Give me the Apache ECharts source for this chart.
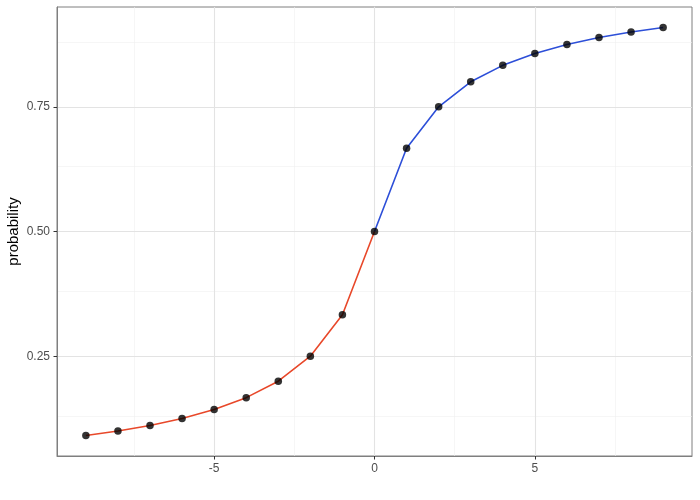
<!DOCTYPE html>
<html>
<head>
<meta charset="utf-8">
<script src="https://cdn.jsdelivr.net/npm/echarts@6/dist/echarts.min.js"></script>
<style>html,body{margin:0;padding:0;background:#fff}#c{width:700px;height:500px}</style>
</head>
<body>
<div id="c"></div>
<script>
const xNeg = [-9,-8,-7,-6,-5,-4,-3,-2,-1,0];
const yNeg = [0.091,0.1,0.111,0.125,0.143,0.167,0.2,0.25,0.333,0.5];
const xPos = [0,1,2,3,4,5,6,7,8,9];
const yPos = [0.5,0.667,0.75,0.8,0.833,0.857,0.875,0.889,0.9,0.909];
const xTicks = [-5,0,5];
const xMinor = [-7.5,-2.5,2.5,7.5];
const yTicks = [0.25,0.5,0.75];
const yMinor = [0.125,0.375,0.625,0.875];
const yTickLabels = ['0.25','0.50','0.75'];

const chart = echarts.init(document.getElementById('c'), null, {renderer:'canvas'});
const pair = (xs, ys) => xs.map((x,i)=>[x, ys[i]]);
const gridLines = [
  ...xMinor.map(v=>({xAxis:v, lineStyle:{color:'#f0f0f0',width:0.6,type:'solid'}})),
  ...yMinor.map(v=>({yAxis:v, lineStyle:{color:'#f0f0f0',width:0.6,type:'solid'}})),
  ...xTicks.map(v=>({xAxis:v, lineStyle:{color:'#e3e3e3',width:1.1,type:'solid'}})),
  ...yTicks.map(v=>({yAxis:v, lineStyle:{color:'#e3e3e3',width:1.1,type:'solid'}}))
];
const font = 'Liberation Sans, Arial, sans-serif';
chart.setOption({
  animation:false,
  grid:{left:57,right:8,top:7,bottom:44,outerBoundsMode:'none',containLabel:false,show:true,borderColor:'#7f7f7f',borderWidth:1,backgroundColor:'#fff'},
  xAxis:{type:'value',min:-9.9,max:9.9,
    axisLine:{show:true,onZero:false,lineStyle:{color:'#7f7f7f',width:1}},
    splitLine:{show:false},
    axisTick:{show:true,customValues:xTicks,length:3.5,lineStyle:{color:'#333'}},
    axisLabel:{customValues:xTicks,color:'#4d4d4d',fontSize:12,fontFamily:font,margin:7}
  },
  yAxis:{type:'value',min:0.05,max:0.95,
    name:'probability',nameLocation:'middle',nameRotate:90,nameGap:43,nameMoveOverlap:false,
    nameTextStyle:{color:'#000',fontSize:15,fontFamily:font,verticalAlign:'middle'},
    axisLine:{show:true,onZero:false,lineStyle:{color:'#7f7f7f',width:1}},
    splitLine:{show:false},
    axisTick:{show:true,customValues:yTicks,length:3.5,lineStyle:{color:'#333'}},
    axisLabel:{customValues:yTicks,color:'#4d4d4d',fontSize:12,fontFamily:font,margin:7,
      formatter:(v)=>{const i=yTicks.findIndex(t=>Math.abs(t-v)<1e-9);return i>=0?yTickLabels[i]:'';}}
  },
  series:[
    {type:'line',data:[],silent:true,zlevel:0,z:0,markLine:{silent:true,symbol:'none',label:{show:false},animation:false,z:0,data:gridLines}},
    {type:'line',data:pair(xNeg,yNeg),showSymbol:false,lineStyle:{color:'#e8482a',width:1.6},z:5},
    {type:'line',data:pair(xPos,yPos),showSymbol:false,lineStyle:{color:'#2d4fd8',width:1.6},z:5},
    {type:'scatter',data:pair(xNeg,yNeg).concat(pair(xPos,yPos).slice(1)),symbolSize:7.5,itemStyle:{color:'#000'},z:10}
  ]
});
</script>
</body>
</html>
